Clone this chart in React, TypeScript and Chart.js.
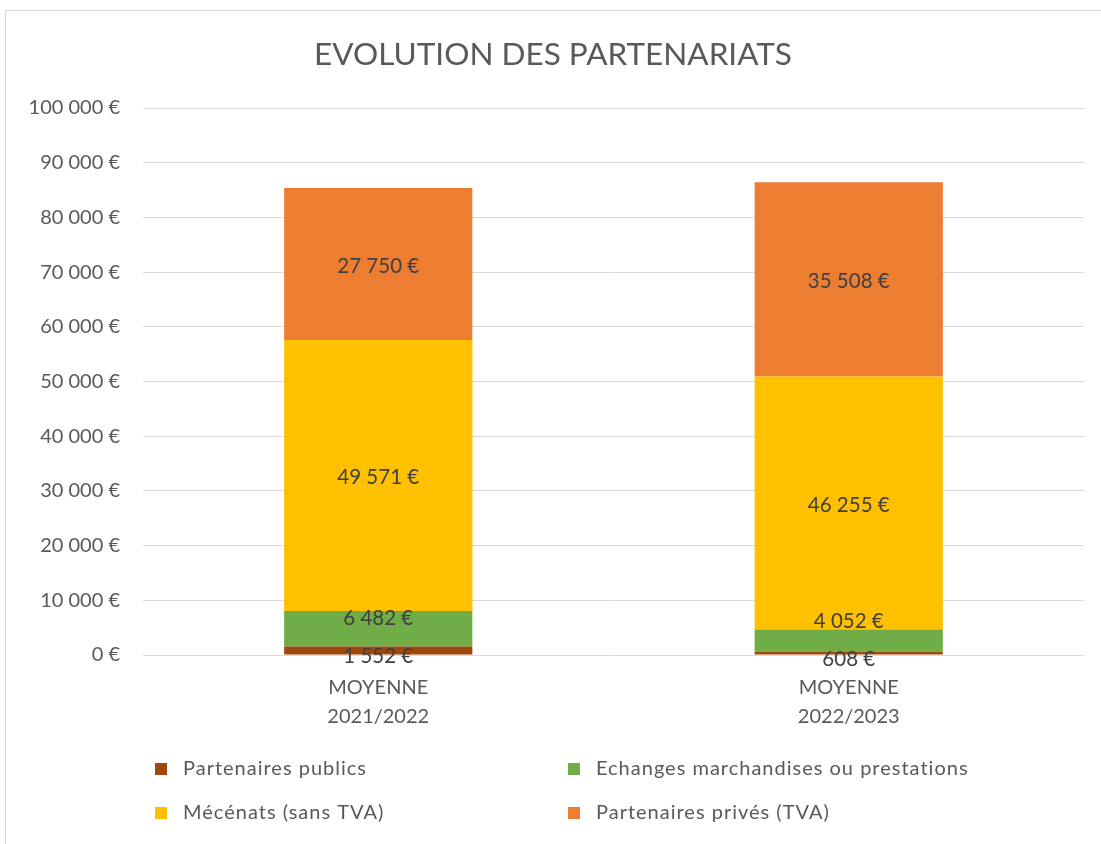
import React, { useEffect, useRef } from "react";
import { Chart, registerables } from "chart.js";

Chart.register(...registerables);

const chartTitle = "EVOLUTION DES PARTENARIATS";
const categories: string[][] = [
  ["MOYENNE", "2021/2022"],
  ["MOYENNE", "2022/2023"],
];
const seriesNames = [
  "Partenaires publics",
  "Echanges marchandises ou prestations",
  "Mécénats (sans TVA)",
  "Partenaires privés (TVA)",
];
const partenairesPublics = [1552, 608];
const echanges = [6482, 4052];
const mecenats = [49571, 46255];
const partenairesPrives = [27750, 35508];
const seriesColors = ["#9E480E", "#70AD47", "#FFC000", "#ED7D31"];
const yMin = 0;
const yMax = 100000;
const yStep = 10000;

const FONT = "Lato, 'Open Sans', sans-serif";
const TEXT = "#595959";

function fmt(v: number): string {
  return String(Math.round(v)).replace(/\B(?=(\d{3})+(?!\d))/g, " ") + " €";
}

const framePlugin = {
  id: "frame",
  beforeDraw(chart: any) {
    const ctx = chart.ctx;
    ctx.save();
    ctx.fillStyle = "#ffffff";
    ctx.fillRect(0, 0, chart.width, chart.height);
    ctx.strokeStyle = "#D9D9D9";
    ctx.lineWidth = 1;
    ctx.strokeRect(5.5, 10.5, chart.width + 50, chart.height + 50);
    ctx.restore();
  },
};

// Data labels centred in each segment; overlapping labels are pushed apart
const labelPlugin = {
  id: "segLabels",
  afterDatasetsDraw(chart: any) {
    const ctx = chart.ctx;
    const minGap = 38;
    ctx.save();
    ctx.font = `20.5px ${FONT}`;
    ctx.fillStyle = "#404040";
    ctx.textAlign = "center";
    ctx.textBaseline = "middle";
    const n = chart.data.labels.length;
    for (let i = 0; i < n; i++) {
      const ys: number[] = [];
      const xs: number[] = [];
      chart.data.datasets.forEach((_ds: any, di: number) => {
        const bar = chart.getDatasetMeta(di).data[i];
        const p = bar.getCenterPoint();
        xs.push(p.x);
        ys.push(p.y + 2);
      });
      for (let k = 1; k < ys.length; k++) {
        if (ys[k - 1] - ys[k] < minGap) {
          if (k === 1) ys[0] += 4;
          ys[k] = ys[k - 1] - minGap;
        }
      }
      chart.data.datasets.forEach((ds: any, di: number) => {
        ctx.fillText(fmt(ds.data[i]), xs[di], ys[di]);
      });
    }
    ctx.restore();
  },
};

const legendPlugin = {
  id: "gridLegend",
  afterDraw(chart: any) {
    const ctx = chart.ctx;
    const base = chart.chartArea.bottom;
    const cols = [155, 568];
    const rows = [base + 114, base + 158];
    ctx.save();
    ctx.font = `20px ${FONT}`;
    (ctx as any).letterSpacing = "1px";
    ctx.textBaseline = "middle";
    ctx.textAlign = "left";
    chart.data.datasets.forEach((ds: any, i: number) => {
      const x = cols[i % 2];
      const y = rows[Math.floor(i / 2)];
      ctx.fillStyle = ds.backgroundColor;
      ctx.fillRect(x, y - 6, 12, 12);
      ctx.fillStyle = TEXT;
      ctx.fillText(ds.label, x + 28, y);
    });
    ctx.restore();
  },
};

export default function App() {
  const ref = useRef<HTMLCanvasElement | null>(null);
  useEffect(() => {
    document.body.style.margin = "0";
    if (!ref.current) return;
    const values = [partenairesPublics, echanges, mecenats, partenairesPrives];
    const chart = new Chart(ref.current, {
      type: "bar",
      data: {
        labels: categories,
        datasets: seriesNames.map((name, i) => ({
          label: name,
          data: values[i],
          backgroundColor: seriesColors[i],
          borderWidth: 0,
          categoryPercentage: 1,
          barPercentage: 0.4,
        })),
      },
      options: {
        animation: false,
        responsive: true,
        maintainAspectRatio: false,
        layout: { padding: { left: 22, top: 10, right: 17, bottom: 110 } },
        plugins: {
          legend: { display: false },
          tooltip: { enabled: false },
          title: {
            display: true,
            text: chartTitle,
            color: TEXT,
            font: { family: FONT, size: 31.5, weight: "normal" as any, lineHeight: 1.2 },
            padding: { top: 25.5, bottom: 34.7 },
          },
        },
        scales: {
          x: {
            stacked: true,
            grid: { display: false, drawTicks: false },
            border: { display: false },
            ticks: {
              color: TEXT,
              padding: 18.5,
              font: { family: FONT, size: 20, lineHeight: 29 / 20 },
              maxRotation: 0,
              autoSkip: false,
            },
            afterFit: (s: any) => {
              s.height = 79;
            },
          },
          y: {
            stacked: true,
            min: yMin,
            max: yMax,
            grid: { color: "#D9D9D9", drawTicks: false, lineWidth: 1 },
            border: { display: false },
            ticks: {
              stepSize: yStep,
              color: TEXT,
              padding: 23,
              font: { family: FONT, size: 20 },
              callback: (v: any) => fmt(Number(v)),
            },
            afterFit: (s: any) => {
              s.width = 121;
            },
          },
        },
      },
      plugins: [framePlugin, labelPlugin, legendPlugin],
    });
    return () => chart.destroy();
  }, []);
  return (
    <div style={{ width: 1101, height: 844, position: "relative" }}>
      <canvas ref={ref} />
    </div>
  );
}
